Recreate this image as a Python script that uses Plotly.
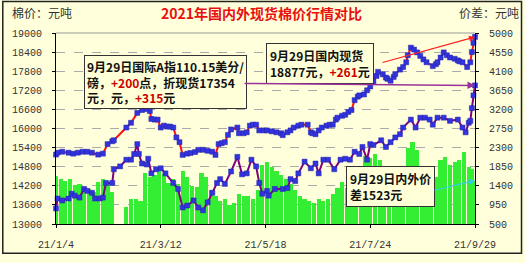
import plotly.graph_objects as go

# 国内现货 (元/吨)
dom_dates = ["2021-01-04","2021-01-05","2021-01-08","2021-01-12","2021-01-15","2021-01-18","2021-01-21","2021-01-24","2021-01-27","2021-01-31",
             "2021-02-03","2021-02-06","2021-02-09","2021-02-10","2021-02-18","2021-02-21","2021-02-25","2021-02-28","2021-03-03","2021-03-05",
             "2021-03-06","2021-03-08","2021-03-10","2021-03-12","2021-03-14","2021-03-16","2021-03-18","2021-03-20","2021-03-22","2021-03-24",
             "2021-03-26","2021-03-29","2021-03-31","2021-04-03","2021-04-05","2021-04-08","2021-04-11","2021-04-14","2021-04-16","2021-04-18",
             "2021-04-20","2021-04-22","2021-04-24","2021-04-26","2021-04-30","2021-05-01","2021-05-04","2021-05-06","2021-05-08","2021-05-10",
             "2021-05-12","2021-05-14","2021-05-17","2021-05-19","2021-05-22","2021-05-25","2021-05-28","2021-05-29","2021-06-01","2021-06-03",
             "2021-06-05","2021-06-08","2021-06-10","2021-06-14","2021-06-16","2021-06-17","2021-06-19","2021-06-21","2021-06-23","2021-06-26",
             "2021-06-28","2021-06-30","2021-07-02","2021-07-03","2021-07-06","2021-07-08","2021-07-10","2021-07-12","2021-07-14","2021-07-16",
             "2021-07-17","2021-07-20","2021-07-22","2021-07-24","2021-07-26","2021-07-28","2021-07-29","2021-08-01","2021-08-03","2021-08-04",
             "2021-08-06","2021-08-08","2021-08-09","2021-08-12","2021-08-14","2021-08-16","2021-08-17","2021-08-19","2021-08-21","2021-08-23",
             "2021-08-25","2021-08-27","2021-08-29","2021-09-02","2021-09-04","2021-09-05","2021-09-07","2021-09-09","2021-09-11","2021-09-13",
             "2021-09-16","2021-09-18","2021-09-19","2021-09-21","2021-09-24","2021-09-26","2021-09-27","2021-09-28","2021-09-29"]
dom_vals = [15180,15240,15270,15240,15210,15240,15270,15270,15240,15180,
            15210,15510,15600,15630,16030,16180,16490,16580,16610,16550,
            16300,16280,16280,16030,16090,16060,16060,16030,15720,15570,
            15170,15210,15230,15260,15330,15330,15300,15270,15170,15510,
            15540,15570,15800,15970,16030,15850,15850,15880,16090,16120,
            16120,15940,15940,15940,15910,15880,15850,15790,15880,15940,
            16030,16090,16120,16120,15880,15850,15820,15940,16030,16090,
            16120,16120,16280,16340,16400,16430,16520,16580,16890,17000,
            17040,17070,17200,17320,17470,17650,17780,17700,17600,17560,
            17500,17620,17710,17850,17930,18080,18300,18540,18480,18390,
            18280,18170,18080,17960,18020,18080,18230,18390,18300,18230,
            18190,18140,18110,18080,17930,18080,18400,18690,18877]

# 国际A指折现货 (元/吨)
intl_dates = ["2021-01-04","2021-01-05","2021-01-08","2021-01-12","2021-01-14","2021-01-16","2021-01-19","2021-01-22","2021-01-24","2021-01-27",
              "2021-01-29","2021-02-01","2021-02-03","2021-02-05","2021-02-09","2021-02-10","2021-02-14","2021-02-18","2021-02-21","2021-02-23",
              "2021-02-25","2021-02-26","2021-02-28","2021-03-03","2021-03-04","2021-03-06","2021-03-09","2021-03-12","2021-03-15","2021-03-20",
              "2021-03-23","2021-03-26","2021-03-29","2021-04-02","2021-04-05","2021-04-08","2021-04-11","2021-04-14","2021-04-17","2021-04-19",
              "2021-04-22","2021-04-26","2021-04-30","2021-05-03","2021-05-06","2021-05-09","2021-05-12","2021-05-14","2021-05-16","2021-05-19",
              "2021-05-20","2021-05-24","2021-05-29","2021-06-01","2021-06-03","2021-06-06","2021-06-08","2021-06-12","2021-06-16","2021-06-19",
              "2021-06-21","2021-06-24","2021-06-27","2021-07-01","2021-07-05","2021-07-08","2021-07-11","2021-07-14","2021-07-17","2021-07-19",
              "2021-07-22","2021-07-24","2021-07-26","2021-07-31","2021-08-03","2021-08-06","2021-08-09","2021-08-12","2021-08-14","2021-08-19",
              "2021-08-22","2021-08-25","2021-08-28","2021-08-31","2021-09-02","2021-09-05","2021-09-09","2021-09-13","2021-09-18","2021-09-21",
              "2021-09-23","2021-09-25","2021-09-26","2021-09-27","2021-09-28","2021-09-29"]
intl_vals = [13490,13800,13740,13800,13950,13890,13830,14100,14040,13980,
             13800,13800,13830,14290,14290,14720,14810,15020,15020,15200,
             15510,15200,14900,14870,15050,14590,14720,14750,14590,14290,
             14100,13520,13580,13740,13520,13430,13680,13980,14290,14410,
             14260,14650,15110,14560,14590,15020,14810,14290,13950,14040,
             13890,14100,14100,14130,14410,14350,14590,14960,14750,14900,
             14590,15020,15020,14720,15020,15050,15020,15270,15200,15420,
             15020,15510,15480,15630,15420,15570,15720,15820,16030,16280,
             16030,16340,16340,16280,16120,16340,16340,16240,16280,16030,
             15880,16180,16240,16640,17040,17354]

# 内外价差 (元/吨)
diff_dates = ["2021-01-04","2021-01-07","2021-01-10","2021-01-13","2021-01-16","2021-01-19","2021-01-22","2021-01-25","2021-01-28","2021-01-31",
              "2021-02-03","2021-02-06","2021-02-09","2021-02-18","2021-02-21","2021-02-24","2021-02-27",
              "2021-03-02","2021-03-05","2021-03-08","2021-03-11","2021-03-14","2021-03-17","2021-03-20","2021-03-23","2021-03-26","2021-03-29",
              "2021-04-01","2021-04-04","2021-04-07","2021-04-10","2021-04-13","2021-04-16","2021-04-19","2021-04-22","2021-04-25","2021-04-28",
              "2021-05-01","2021-05-04","2021-05-07","2021-05-10","2021-05-13","2021-05-16","2021-05-19","2021-05-22","2021-05-25","2021-05-28","2021-05-31",
              "2021-06-03","2021-06-06","2021-06-09","2021-06-12","2021-06-15","2021-06-18","2021-06-21","2021-06-24","2021-06-27","2021-06-30",
              "2021-07-03","2021-07-06","2021-07-09","2021-07-12","2021-07-15","2021-07-18","2021-07-21","2021-07-24","2021-07-27","2021-07-30",
              "2021-08-02","2021-08-05","2021-08-08","2021-08-11","2021-08-14","2021-08-17","2021-08-20","2021-08-23","2021-08-26","2021-08-29",
              "2021-09-01","2021-09-04","2021-09-07","2021-09-10","2021-09-13","2021-09-16","2021-09-19","2021-09-22","2021-09-25","2021-09-27","2021-09-29"]
diff_vals = [1620,1560,1510,1560,1420,1440,1380,1330,1250,1480,
             1550,1500,1250,900,1100,1080,1050,
             1690,1600,1650,1820,1680,1460,1550,1450,1750,1600,
             1400,1380,1700,1600,1300,1150,1050,1100,950,1000,
             1200,1150,1150,1100,1300,1900,1950,1850,1750,1650,1550,
             1450,1300,1150,1100,1050,1000,1080,1050,1100,1200,
             1350,1500,1350,1600,1650,1700,2100,2050,2150,2000,
             1800,1700,1650,1750,1850,2300,2430,2250,1800,1700,
             1650,1600,2000,2080,1900,1950,2000,2200,1850,1800,1523]

x_ticks = ["2021-01-04", "2021-03-12", "2021-05-18", "2021-07-24", "2021-09-29"]
x_ticktext = ["21/1/4", "21/3/12", "21/5/18", "21/7/24", "21/9/29"]

BG = "#FFFFDC"
CJK = "Noto Sans CJK SC"
TICKF = dict(family="Liberation Mono, DejaVu Sans Mono", size=10, color="#333333")

fig = go.Figure()
fig.add_trace(go.Bar(x=diff_dates, y=diff_vals, yaxis="y", marker=dict(color="#33EE33", line=dict(width=0)),
                     width=2.7 * 86400000, name="价差"))
mk = dict(symbol="square", size=5, color="#3333DD", line=dict(color="#2222AA", width=0.5))
fig.add_trace(go.Scatter(x=dom_dates, y=dom_vals, yaxis="y2", mode="lines+markers", cliponaxis=False,
                         line=dict(color="#FF1010", width=2), marker=mk, name="国内现货"))
fig.add_trace(go.Scatter(x=intl_dates, y=intl_vals, yaxis="y2", mode="lines+markers", cliponaxis=False,
                         line=dict(color="#800080", width=2), marker=mk, name="国际折现货"))

red = "#CC0000"
ann = [
    dict(text="<b>2021年国内外现货棉价行情对比</b>", xref="paper", yref="paper", x=0.49, y=1.105,
         xanchor="center", yanchor="middle", showarrow=False, font=dict(family=CJK, size=14, color="#E81010")),
    dict(text="棉价：元吨", xref="paper", yref="paper", x=-0.11, y=1.105, xanchor="left", yanchor="middle",
         showarrow=False, font=dict(family=CJK, size=12, color="#333333")),
    dict(text="价差：元吨", xref="paper", yref="paper", x=1.11, y=1.105, xanchor="right", yanchor="middle",
         showarrow=False, font=dict(family=CJK, size=12, color="#333333")),
    # boxes
    dict(text="<b>9月29日国际A指110.15美分/<br>磅，<span style='color:%s'>+200</span>点，折现货17354<br>元，元，<span style='color:%s'>+315</span>元</b>" % (red, red),
         xref="paper", yref="paper", x=0.066, y=0.885, xanchor="left", yanchor="top", align="left", showarrow=False,
         bgcolor="#FFFFD8", bordercolor="#333333", borderwidth=1, borderpad=2, font=dict(family=CJK, size=12, color="#111111")),
    dict(text="<b>9月29日国内现货<br>18877元，<span style='color:%s'>+261</span>元</b>" % red,
         xref="paper", yref="paper", x=0.501, y=0.95, xanchor="left", yanchor="top", align="left", showarrow=False,
         bgcolor="#FFFFD8", bordercolor="#333333", borderwidth=1, borderpad=3, font=dict(family=CJK, size=12, color="#111111")),
    dict(text="<b>9月29日内外价<br>差1523元</b>",
         xref="paper", yref="paper", x=0.691, y=0.306, xanchor="left", yanchor="top", align="left", showarrow=False,
         bgcolor="#FFFFD8", bordercolor="#333333", borderwidth=1, borderpad=3, font=dict(family=CJK, size=12, color="#111111")),
    # arrows
    dict(text=" ", x=dom_dates[-1], y=dom_vals[-1], xref="x", yref="y2", showarrow=True, ax=-94, ay=26,
         arrowhead=2, arrowsize=1, arrowwidth=1.2, arrowcolor="#FF2020", font=dict(size=1)),
    dict(text=" ", x=intl_dates[-1], y=intl_vals[-1], xref="x", yref="y2", showarrow=True, ax=-232, ay=-2,
         arrowhead=2, arrowsize=1, arrowwidth=1.5, arrowcolor="#993399", font=dict(size=1)),
    dict(text=" ", x=diff_dates[-1], y=diff_vals[-1], xref="x", yref="y", showarrow=True, ax=-42, ay=10,
         arrowhead=2, arrowsize=1, arrowwidth=1.2, arrowcolor="#33CCEE", font=dict(size=1)),
]

shapes = [
    dict(type="rect", xref="paper", yref="paper", x0=-0.127, x1=1.111, y0=-0.153, y1=1.165,
         line=dict(color="#222222", width=1.5), fillcolor="rgba(0,0,0,0)", layer="above"),
    dict(type="line", xref="paper", yref="paper", x0=0, x1=1, y0=1, y1=1, line=dict(color="#999999", width=1)),
]

fig.update_layout(
    width=525, height=263, margin=dict(l=54, r=50, t=33, b=34),
    paper_bgcolor=BG, plot_bgcolor=BG, showlegend=False, bargap=0,
    annotations=ann, shapes=shapes, hovermode=False,
    xaxis=dict(type="date", range=["2021-01-04", "2021-09-29"], tickvals=x_ticks, ticktext=x_ticktext,
               showgrid=False, showline=True, linecolor="#000000", linewidth=1, ticks="outside", ticklen=3,
               tickcolor="#000000", tickfont=TICKF, ticklabelstandoff=8, zeroline=False),
    yaxis=dict(side="right", range=[500, 5000], tickvals=list(range(500, 5001, 450)), tickformat="d", showgrid=True,
               gridcolor="#AAAAAA", griddash="dash", gridwidth=1, showline=True, linecolor="#000000", linewidth=1,
               ticks="outside", ticklen=3, tickcolor="#000000", tickfont=TICKF, ticklabelstandoff=8, zeroline=False),
    yaxis2=dict(side="left", overlaying="y", range=[13000, 19000], tickvals=list(range(13000, 19001, 600)), tickformat="d",
                showgrid=False, showline=True, linecolor="#000000", linewidth=1, ticks="outside", ticklen=3,
                tickcolor="#000000", tickfont=TICKF, ticklabelstandoff=8, zeroline=False),
)

fig.write_html("out.html", config={"displayModeBar": False})
